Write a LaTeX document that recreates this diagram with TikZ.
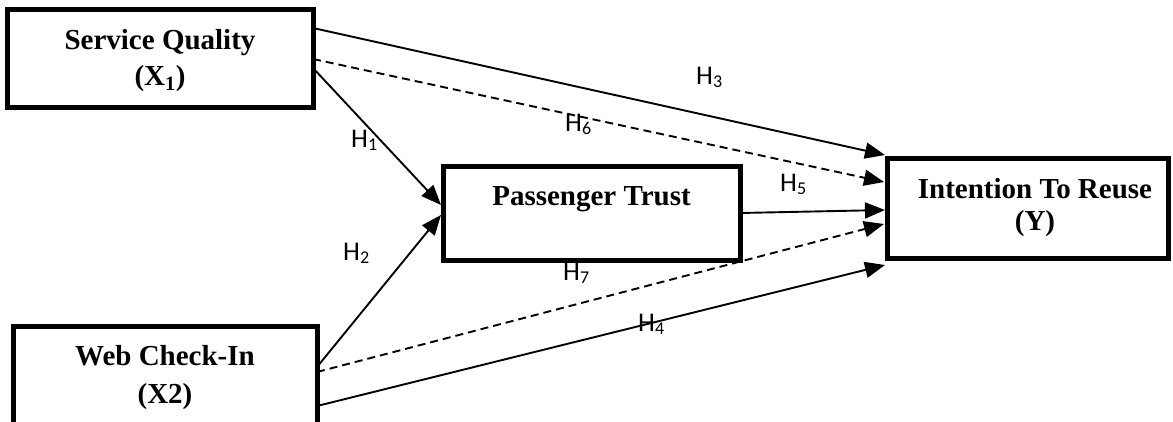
\documentclass[tikz,border=0pt]{standalone}
\usepackage{fontspec}
\setmainfont{Liberation Serif}
\newfontfamily\labelfont{Carlito}
\usetikzlibrary{arrows.meta}

% hypothesis label: H with a lowered, smaller index
\newcommand\hlab[1]{H\raisebox{-3pt}{\fontsize{18}{18}\selectfont #1}}

\begin{document}
\begin{tikzpicture}[x=1pt,y=-1pt,
  box/.style={draw, line width=5pt, rectangle, inner sep=0pt, outer sep=0pt,
    align=center, fill=white},
  boxfont/.style={font=\fontsize{29}{#1}\selectfont\bfseries},
  link/.style={line width=1.9pt, -{Triangle[length=20pt,width=16pt]}},
  dlink/.style={link, dash pattern=on 8pt off 5pt},
  hyp/.style={anchor=base west, inner sep=0pt, font=\labelfont\fontsize{27}{27}\selectfont}
]
\useasboundingbox (0,0) rectangle (1173,421);
\clip (0,0) rectangle (1173,421);

% constructs
\node[box, boxfont=36, minimum width=306pt, minimum height=98pt] (sq) at (160,58)
  {\rule{0pt}{26pt}Service Quality\\(X\textsubscript{1})};
\node[box, boxfont=38, minimum width=304pt, minimum height=104pt] (wc) at (165,378)
  {Web Check-In\\(X2)};
\node[box, boxfont=34, minimum width=297pt, minimum height=94pt] (pt) at (591.5,213)
  {Passenger Trust\\\mbox{}};
\node[box, boxfont=32, minimum width=281pt, minimum height=100pt] (ir) at (1027.5,208)
  {\hspace*{15pt}Intention To Reuse\\\hspace*{15pt}(Y)};

% direct effects
\draw[link]  ([yshift=-19pt]sq.north east) -- ([xshift=-2pt,yshift=3pt]ir.north west);
\draw[link]  ([yshift=-59pt]sq.north east) -- ([xshift=-2pt,yshift=-39pt]pt.north west);
\draw[link]  ([yshift=-41pt]wc.north east) -- ([xshift=-2pt,yshift=-49pt]pt.north west);
\draw[link]  ([yshift=-80pt]wc.north east) -- ([xshift=-2pt,yshift=-107pt]ir.north west);
\draw[link]  ([yshift=-47pt]pt.north east) -- ([xshift=-2pt,yshift=-52pt]ir.north west);
% mediated effects
\draw[dlink] ([yshift=-50pt]sq.north east) -- ([xshift=-3pt,yshift=-24pt]ir.north west);
\draw[dlink] ([yshift=-46pt]wc.north east) -- ([xshift=-3pt,yshift=-66pt]ir.north west);

% hypothesis labels
\node[hyp] (h1) at (351,147) {\hlab{1}};
\node[hyp] (h2) at (343,260) {\hlab{2}};
\node[hyp] (h3) at (696,84)  {\hlab{3}};
\node[hyp] (h4) at (638,331) {\hlab{4}};
\node[hyp] (h5) at (780,191) {\hlab{5}};
\node[hyp] (h6) at (565,131) {\hlab{6}};
\node[hyp] (h7) at (563,280) {\hlab{7}};
\end{tikzpicture}
\end{document}
